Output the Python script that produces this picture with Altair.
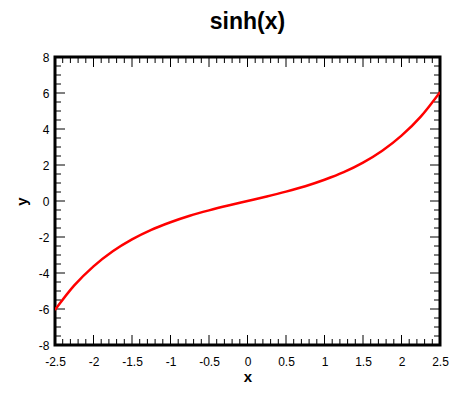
import altair as alt
import pandas as pd

# data
xs = [-2.5, -2.25, -2.0, -1.75, -1.5, -1.25, -1.0, -0.75, -0.5, -0.25, 0.0,
      0.25, 0.5, 0.75, 1.0, 1.25, 1.5, 1.75, 2.0, 2.25, 2.5]
ys = [-6.05, -4.69, -3.63, -2.79, -2.13, -1.60, -1.18, -0.82, -0.52, -0.25, 0.0,
      0.25, 0.52, 0.82, 1.18, 1.60, 2.13, 2.79, 3.63, 4.69, 6.05]

x_major = [-2.5, -2.0, -1.5, -1.0, -0.5, 0.0, 0.5, 1.0, 1.5, 2.0, 2.5]
x_minor = [-2.4, -2.3, -2.2, -2.1, -1.9, -1.8, -1.7, -1.6, -1.4, -1.3, -1.2, -1.1,
           -0.9, -0.8, -0.7, -0.6, -0.4, -0.3, -0.2, -0.1, 0.1, 0.2, 0.3, 0.4,
           0.6, 0.7, 0.8, 0.9, 1.1, 1.2, 1.3, 1.4, 1.6, 1.7, 1.8, 1.9, 2.1, 2.2, 2.3, 2.4]
y_major = [-8, -6, -4, -2, 0, 2, 4, 6, 8]
y_minor = [-7.5, -7, -6.5, -5.5, -5, -4.5, -3.5, -3, -2.5, -1.5, -1, -0.5,
           0.5, 1, 1.5, 2.5, 3, 3.5, 4.5, 5, 5.5, 6.5, 7, 7.5]

W, H = 385, 288
FONT = "Liberation Sans"

xscale = alt.Scale(domain=[-2.5, 2.5], nice=False, zero=False)
yscale = alt.Scale(domain=[-8, 8], nice=False, zero=False)

xaxis = alt.Axis(values=x_major, ticks=False, domain=False, grid=False,
                 labelExpr="'' + datum.value",
                 labelFont=FONT, labelFontSize=12, labelColor="black",
                 labelPadding=11, labelFlush=False, labelOverlap=False,
                 title="x", titleFont=FONT, titleFontSize=15, titleFontWeight="bold",
                 titleColor="black", titlePadding=2)
yaxis = alt.Axis(values=y_major, ticks=False, domain=False, grid=False,
                 labelExpr="'' + datum.value",
                 labelFont=FONT, labelFontSize=12, labelColor="black",
                 labelPadding=6, labelFlush=False, labelOverlap=False,
                 title="y", titleFont=FONT, titleFontSize=15, titleFontWeight="bold",
                 titleColor="black", titleAngle=270, titleX=-34, titleY=H / 2,
                 titleAlign="center", titleBaseline="middle")

line_df = pd.DataFrame({"x": xs, "y": ys})
line = alt.Chart(line_df).mark_line(color="#ff0000", strokeWidth=2.5,
                                    interpolate="monotone", clip=True).encode(
    x=alt.X("x:Q", scale=xscale, axis=xaxis, title="x"),
    y=alt.Y("y:Q", scale=yscale, axis=yaxis, title="y"),
)

def xticks(vals, length):
    df = pd.DataFrame({"x": vals})
    base = alt.Chart(df).mark_rule(color="black", strokeWidth=1)
    bottom = base.encode(x=alt.X("x:Q", scale=xscale, axis=xaxis, title="x"),
                         y=alt.value(H), y2=alt.value(H - length))
    top = base.encode(x=alt.X("x:Q", scale=xscale, axis=xaxis, title="x"),
                      y=alt.value(0), y2=alt.value(length))
    return [bottom, top]

def yticks(vals, length):
    df = pd.DataFrame({"y": vals})
    base = alt.Chart(df).mark_rule(color="black", strokeWidth=1)
    left = base.encode(y=alt.Y("y:Q", scale=yscale, axis=yaxis, title="y"),
                       x=alt.value(0), x2=alt.value(length))
    right = base.encode(y=alt.Y("y:Q", scale=yscale, axis=yaxis, title="y"),
                        x=alt.value(W), x2=alt.value(W - length))
    return [left, right]

layers = (xticks(x_major, 10) + xticks(x_minor, 6) +
          yticks(y_major, 10) + yticks(y_minor, 6) + [line])

chart = alt.layer(*layers).properties(
    width=W, height=H,
    title=alt.TitleParams("sinh(x)", font=FONT, fontSize=23, fontWeight="bold",
                          color="black", anchor="middle", offset=17),
    autosize=alt.AutoSizeParams(type="none"),
    padding={"left": 47, "top": 49, "right": 18, "bottom": 46},
).configure(
    background="white"
).configure_view(
    stroke="black", strokeWidth=3
)

chart.save("out.html", embed_options={"renderer": "svg", "actions": False})
